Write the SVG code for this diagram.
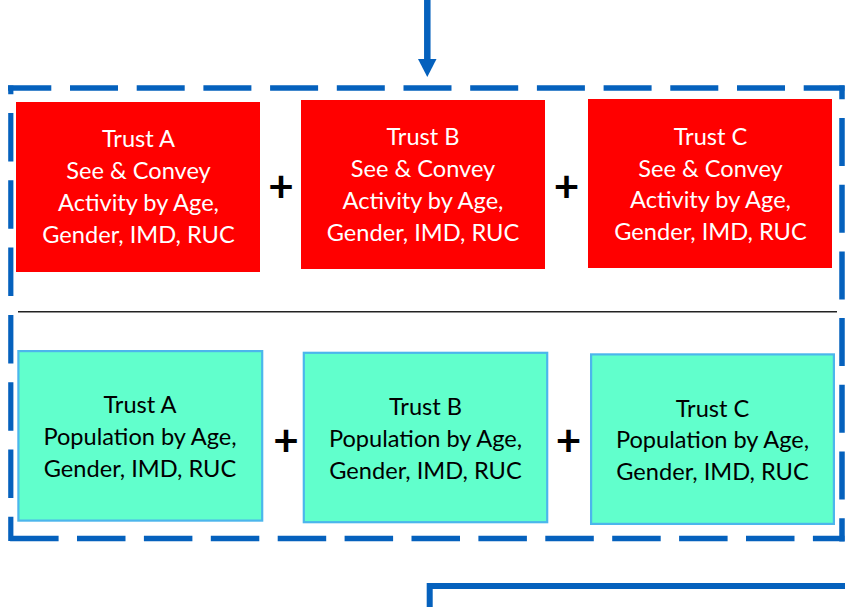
<svg xmlns="http://www.w3.org/2000/svg" width="845" height="607" viewBox="0 0 845 607">
<style>
.red{fill:#FF0000}
.grn{fill:#61FFCC;stroke:#4CB6EC;stroke-width:2.2}
.t{font-family:Lato,"Liberation Sans",sans-serif;font-size:23.6px;text-anchor:middle}
.w{fill:#FFFFFF}
.k{fill:#000000}
.plus{font-family:Lato,"Liberation Sans",sans-serif;font-size:44px;font-weight:bold;text-anchor:middle;fill:#000}
.dash{stroke:#0561BD;fill:none}
</style>
<rect width="845" height="607" fill="#FFFFFF"/>
<g id="connectors">
<line x1="427.3" y1="0" x2="427.3" y2="61" stroke="#0561BD" stroke-width="6.5"/>
<polygon points="418,59 436.5,59 427.3,77" fill="#0561BD"/>
<path d="M429.7 607 V586 H845" fill="none" stroke="#0561BD" stroke-width="6" stroke-linejoin="miter"/>
</g>
<g id="group-border">
<line class="dash" x1="8" y1="88" x2="844.5" y2="88" stroke-width="5.5" stroke-dasharray="48 18.7" stroke-dashoffset="4.7"/>
<line class="dash" x1="842" y1="85.5" x2="842" y2="541.5" stroke-width="5.5" stroke-dasharray="48 18.7" stroke-dashoffset="34.2"/>
<line class="dash" x1="8" y1="538.5" x2="844.5" y2="538.5" stroke-width="5.5" stroke-dasharray="48.5 18.4" stroke-dashoffset="64.8"/>
<line class="dash" x1="10.8" y1="85.5" x2="10.8" y2="541" stroke-width="5.2" stroke-dasharray="48.5 18.8" stroke-dashoffset="39.8"/>
</g>
<g id="separator">
<line x1="18" y1="311.7" x2="837" y2="311.7" stroke="#222" stroke-width="1.4"/>
</g>
<g id="activity-a">
<rect class="red" x="16" y="102" width="244" height="170"/>
<text class="t w" x="138.5" y="147">Trust A</text>
<text class="t w" x="138.5" y="179">See &amp; Convey</text>
<text class="t w" x="138.5" y="211">Activity by Age,</text>
<text class="t w" x="138.5" y="243">Gender, IMD, RUC</text>
</g>
<g id="plus-1"><text class="plus" x="281" y="202">+</text></g>
<g id="activity-b">
<rect class="red" x="301" y="100" width="244" height="169"/>
<text class="t w" x="423" y="145">Trust B</text>
<text class="t w" x="423" y="177">See &amp; Convey</text>
<text class="t w" x="423" y="209">Activity by Age,</text>
<text class="t w" x="423" y="241">Gender, IMD, RUC</text>
</g>
<g id="plus-2"><text class="plus" x="566.5" y="202">+</text></g>
<g id="activity-c">
<rect class="red" x="588" y="99" width="244" height="169"/>
<text class="t w" x="710.5" y="145">Trust C</text>
<text class="t w" x="710.5" y="177">See &amp; Convey</text>
<text class="t w" x="710.5" y="208">Activity by Age,</text>
<text class="t w" x="710.5" y="240">Gender, IMD, RUC</text>
</g>
<g id="population-a">
<rect class="grn" x="18.4" y="351.1" width="243.8" height="169.5"/>
<text class="t k" x="140" y="413">Trust A</text>
<text class="t k" x="140" y="445">Population by Age,</text>
<text class="t k" x="140" y="477">Gender, IMD, RUC</text>
</g>
<g id="plus-3"><text class="plus" x="286" y="456">+</text></g>
<g id="population-b">
<rect class="grn" x="303.8" y="352.8" width="243.4" height="169.4"/>
<text class="t k" x="425.5" y="415">Trust B</text>
<text class="t k" x="425.5" y="447">Population by Age,</text>
<text class="t k" x="425.5" y="479">Gender, IMD, RUC</text>
</g>
<g id="plus-4"><text class="plus" x="568.5" y="456">+</text></g>
<g id="population-c">
<rect class="grn" x="591.1" y="354.4" width="242.8" height="169.5"/>
<text class="t k" x="712.5" y="417">Trust C</text>
<text class="t k" x="712.5" y="448">Population by Age,</text>
<text class="t k" x="712.5" y="480">Gender, IMD, RUC</text>
</g>
</svg>
